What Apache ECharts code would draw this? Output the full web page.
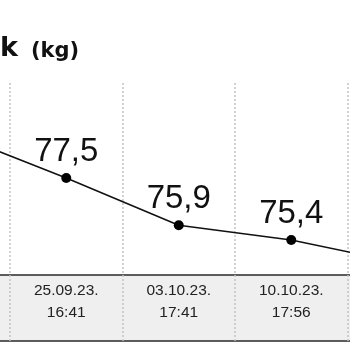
<!DOCTYPE html>
<html>
<head>
<meta charset="utf-8">
<script src="https://cdn.jsdelivr.net/npm/echarts@6/dist/echarts.min.js"></script>
<style>html,body{margin:0;padding:0;background:#fff}#c{width:350px;height:350px}</style>
</head>
<body>
<div id="c"></div>
<script>
var categories = [' ', '25.09.23.\n16:41', '03.10.23.\n17:41', '10.10.23.\n17:56', '  '];
var weights = [79.0, 77.5, 75.9, 75.4, 74.6];
var shownLabels = [false, true, true, true, false];
var titleMain = 'k';
var titleUnit = '(kg)';

var chart = echarts.init(document.getElementById('c'), null, {renderer: 'canvas'});
var dotted = {show: true, lineStyle: {type: [2, 2], color: '#c4c4c4', width: 1.5}};
chart.setOption({
  animation: false,
  title: {
    text: '{a|' + titleMain + '}{b|' + titleUnit + '}',
    left: -5, top: 27,
    textStyle: {
      rich: {
        a: {fontSize: 27, lineHeight: 30, fontWeight: 'bold', color: '#111', fontFamily: 'DejaVu Sans', verticalAlign: 'bottom'},
        b: {fontSize: 21, lineHeight: 25, fontWeight: 'bold', color: '#111', fontFamily: 'DejaVu Sans', padding: [0, 0, 0, 13], verticalAlign: 'bottom'}
      }
    }
  },
  grid: [
    {left: -102.5, width: 562.5, top: 83, height: 192, outerBoundsMode: 'none', containLabel: false},
    {left: -102.5, width: 562.5, top: 275, height: 66, show: true, outerBoundsMode: 'none', containLabel: false,
     backgroundColor: '#efefef', borderColor: '#2a2a2a', borderWidth: 1.5}
  ],
  xAxis: [
    {type: 'category', gridIndex: 0, data: categories, boundaryGap: true,
     axisLine: {show: false}, axisTick: {show: false}, axisLabel: {show: false},
     splitLine: dotted},
    {type: 'category', gridIndex: 1, data: categories, boundaryGap: true, position: 'top',
     axisLine: {show: false}, axisTick: {show: false},
     axisLabel: {inside: true, margin: 5, fontSize: 15.5, lineHeight: 22, color: '#222',
                 fontFamily: 'Liberation Sans', interval: 0},
     splitLine: dotted}
  ],
  yAxis: [
    {type: 'value', gridIndex: 0, min: 74.215, max: 80.718, show: false, splitLine: {show: false}},
    {type: 'value', gridIndex: 1, show: false, splitLine: {show: false}}
  ],
  series: [{
    type: 'line', xAxisIndex: 0, yAxisIndex: 0,
    data: weights.map(function (v, i) {
      return {value: v, label: {show: shownLabels[i]}};
    }),
    symbol: 'circle', symbolSize: 10,
    itemStyle: {color: '#000'},
    lineStyle: {color: '#111', width: 1.5},
    label: {
      position: 'top', distance: 5, fontSize: 33, color: '#111',
      fontFamily: 'Liberation Sans',
      formatter: function (p) { return p.value.toFixed(1).replace('.', ','); }
    }
  }]
});
</script>
</body>
</html>
